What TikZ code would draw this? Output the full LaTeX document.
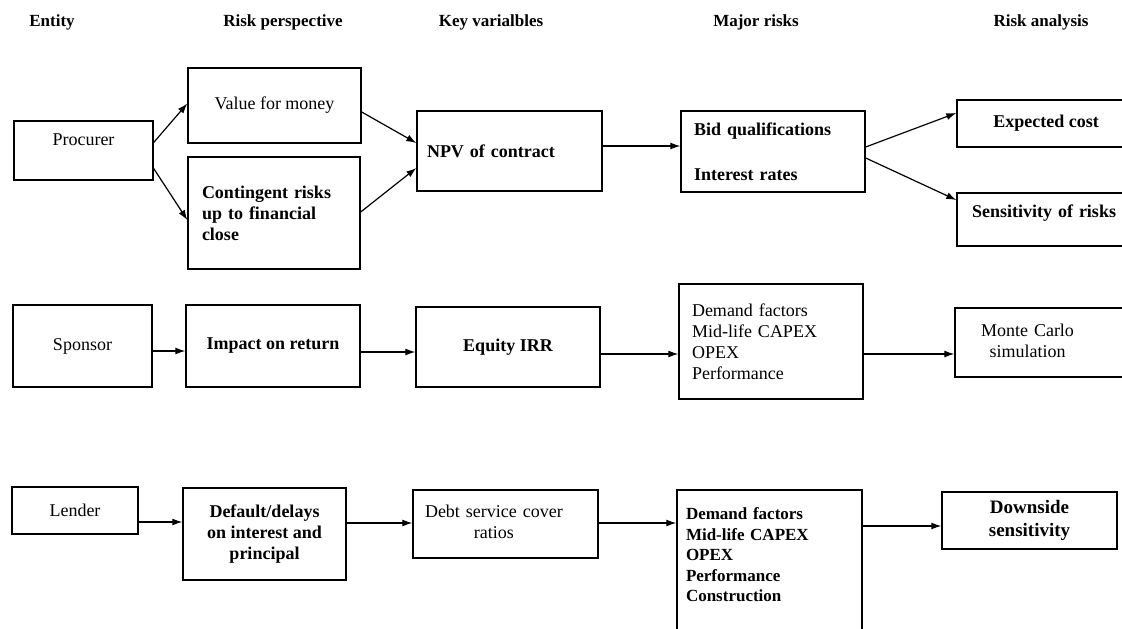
\documentclass[tikz,border=0pt]{standalone}
\usepackage{fontspec}
\setmainfont{Liberation Serif}
\usetikzlibrary{arrows.meta}

\begin{document}
\begin{tikzpicture}[x=1pt, y=-1pt, >={Latex[length=10pt,width=7pt]},
    box/.style={draw, rectangle, line width=1.4pt, inner sep=0pt, font=\fontsize{18}{21}\selectfont},
    boldbox/.style={box, font=\fontsize{18}{21}\selectfont\bfseries},
    head/.style={inner sep=0pt, font=\fontsize{17}{20}\selectfont\bfseries},
    link/.style={->, line width=1.2pt}]
    \useasboundingbox (0,0) rectangle (1122,629);

    % column titles
    \node[head] (hentity) at (52,22) {Entity};
    \node[head] (hpersp) at (283,22) {Risk perspective};
    \node[head] (hkey) at (491,22) {Key varialbles};
    \node[head] (hmajor) at (756,22) {Major risks};
    \node[head] (hanalysis) at (1041,22) {Risk analysis};

    % procurer
    \node[box, minimum width=139pt, minimum height=59pt, text depth=21pt] (procurer) at (83.5,150.5) {Procurer};
    \node[box, minimum width=173pt, minimum height=75pt] (vfm) at (274.5,105.5) {Value for money};
    \node[boldbox, minimum width=172pt, minimum height=112pt, text width=144pt, align=left] (contingent) at (274,213) {Contingent risks\\ up to financial\\ close};
    \node[boldbox, minimum width=185pt, minimum height=80pt, text width=165pt, align=left] (npv) at (509.5,151) {NPV of contract};
    \node[boldbox, minimum width=184pt, minimum height=81pt, text width=158pt, align=left] (bidq) at (773,151.5) {Bid qualifications\\[24pt] Interest rates};
    \node[boldbox, minimum width=178pt, minimum height=47pt] (expcost) at (1046,123.5) {Expected cost};
    \node[boldbox, minimum width=178pt, minimum height=53pt, text width=148pt, align=left, text depth=16pt] (sensrisk) at (1046,219.5) {Sensitivity of risks};

    \draw[link] ([yshift=8pt]procurer.east) -- ([yshift=2pt]vfm.west);
    \draw[link] ([yshift=-18pt]procurer.east) -- ([yshift=-7pt]contingent.west);
    \draw[link] ([yshift=-6.5pt]vfm.east) -- ([yshift=8pt]npv.west);
    \draw[link] ([yshift=1pt]contingent.east) -- ([yshift=-17pt]npv.west);
    \draw[link] ([yshift=5pt]npv.east) -- ([yshift=5.5pt]bidq.west);
    \draw[link] ([yshift=4.5pt]bidq.east) -- ([yshift=10.5pt]expcost.west);
    \draw[link] ([yshift=-6.5pt]bidq.east) -- ([yshift=19.5pt]sensrisk.west);

    % sponsor
    \node[box, minimum width=139pt, minimum height=82pt] (sponsor) at (82.5,346) {Sponsor};
    \node[boldbox, minimum width=174pt, minimum height=82pt] (impact) at (273,346) {Impact on return};
    \node[boldbox, minimum width=184pt, minimum height=80pt] (equity) at (508,347) {Equity IRR};
    \node[box, minimum width=184pt, minimum height=115pt, text width=158pt, align=left] (demand1) at (771,341.5) {Demand factors\\ Mid-life CAPEX\\ OPEX\\ Performance};
    \node[box, minimum width=180pt, minimum height=69pt, text width=128pt, align=left] (montecarlo) at (1045,342.5) {\begin{tabular}{@{}c@{}}Monte Carlo\\ simulation\end{tabular}};

    \draw[link] ([yshift=-5pt]sponsor.east) -- ([yshift=-5pt]impact.west);
    \draw[link] ([yshift=-6pt]impact.east) -- ([yshift=-5pt]equity.west);
    \draw[link] ([yshift=-7pt]equity.east) -- ([yshift=-12.5pt]demand1.west);
    \draw[link] ([yshift=-12.5pt]demand1.east) -- ([yshift=-11.5pt]montecarlo.west);

    % lender
    \node[box, minimum width=126pt, minimum height=47pt] (lender) at (75,510.5) {Lender};
    \node[boldbox, minimum width=163pt, minimum height=92pt, align=center] (default) at (264.5,534) {Default/delays\\ on interest and\\ principal};
    \node[box, minimum width=185pt, minimum height=68pt, text width=161pt, align=left] (debt) at (505.5,524) {\begin{tabular}{@{}c@{}}Debt service cover\\ ratios\end{tabular}};
    \node[box, minimum width=185pt, minimum height=142pt, text width=167pt, align=left, text depth=94pt, font=\fontsize{17}{20.5}\selectfont\bfseries] (demand2) at (769.5,561) {Demand factors\\ Mid-life CAPEX\\ OPEX\\ Performance\\ Construction};
    \node[box, minimum width=175pt, minimum height=57pt, align=center, font=\fontsize{19}{23}\selectfont\bfseries] (downside) at (1029.5,520.5) {Downside\\ sensitivity};

    \draw[link] ([yshift=-11.5pt]lender.east) -- ([yshift=12pt]default.west);
    \draw[link] ([yshift=11pt]default.east) -- ([yshift=1pt]debt.west);
    \draw[link] ([yshift=1pt]debt.east) -- ([yshift=38pt]demand2.west);
    \draw[link] ([yshift=35pt]demand2.east) -- ([yshift=-5.5pt]downside.west);
\end{tikzpicture}
\end{document}
